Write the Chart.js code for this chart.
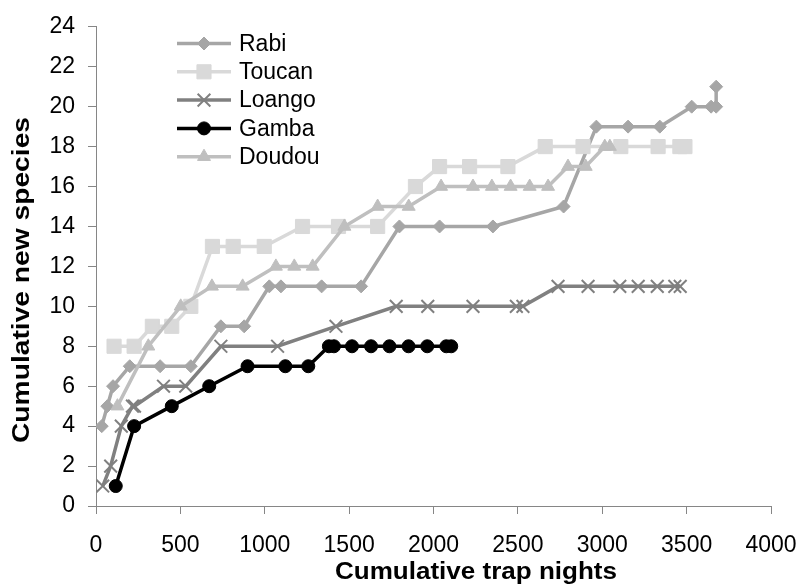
<!DOCTYPE html>
<html>
<head>
<meta charset="utf-8">
<title>Cumulative new species</title>
<script src="https://cdn.jsdelivr.net/npm/chart.js@4.4.1/dist/chart.umd.min.js"></script>
<style>
  html, body { margin: 0; padding: 0; background: #fff; }
  canvas { display: block; }
</style>
</head>
<body>
<canvas id="curves" width="804" height="588"></canvas>
<script>
// cumulative trap nights (x) and cumulative new species (y) per site
const rabiNights   = [34, 67, 101, 200, 380, 562, 740, 878, 1027, 1096, 1337, 1571, 1798, 2036, 2352, 2771, 2965, 3153, 3341, 3530, 3645, 3675, 3675];
const rabiSpecies  = [4, 5, 6, 7, 7, 7, 9, 9, 11, 11, 11, 11, 14, 14, 14, 15, 19, 19, 19, 20, 20, 20, 21];

const toucanNights  = [107, 226, 334, 449, 562, 690, 813, 997, 1224, 1437, 1669, 1893, 2036, 2214, 2441, 2662, 2886, 3110, 3331, 3460, 3490];
const toucanSpecies = [8, 8, 9, 9, 10, 13, 13, 13, 14, 14, 14, 16, 17, 17, 17, 18, 18, 18, 18, 18, 18];

const loangoNights  = [40, 87, 150, 216, 228, 400, 532, 740, 1076, 1422, 1779, 1966, 2234, 2491, 2530, 2738, 2916, 3104, 3213, 3326, 3430, 3462];
const loangoSpecies = [1, 2, 4, 5, 5, 6, 6, 8, 8, 9, 10, 10, 10, 10, 10, 11, 11, 11, 11, 11, 11, 11];

const gambaNights  = [117, 226, 449, 671, 898, 1122, 1258, 1380, 1410, 1517, 1630, 1739, 1852, 1963, 2076, 2105];
const gambaSpecies = [1, 4, 5, 6, 7, 7, 7, 8, 8, 8, 8, 8, 8, 8, 8, 8];

const doudouNights  = [127, 310, 502, 687, 869, 1066, 1175, 1284, 1472, 1669, 1853, 2045, 2234, 2346, 2457, 2570, 2679, 2797, 2902, 3015, 3045];
const doudouSpecies = [5, 8, 10, 11, 11, 12, 12, 12, 14, 15, 15, 16, 16, 16, 16, 16, 16, 17, 17, 18, 18];

const siteNames = ['Rabi', 'Toucan', 'Loango', 'Gamba', 'Doudou'];
const xTicks = [0, 500, 1000, 1500, 2000, 2500, 3000, 3500, 4000];
const yTicks = [0, 2, 4, 6, 8, 10, 12, 14, 16, 18, 20, 22, 24];
const xTitle = 'Cumulative trap nights';
const yTitle = 'Cumulative new species';

const fontFamily = '"Liberation Sans", Arial, sans-serif';
const axisGray = '#868686';

function toPoints(xs, ys) {
    return xs.map((x, i) => ({ x: x, y: ys[i] }));
}

// marker and line style for each site, same order as siteNames
const siteStyles = [
    { color: '#A6A6A6', pointStyle: 'rectRot',  radius: 6.5, pointBorder: 1 },
    { color: '#D9D9D9', pointStyle: 'rect',     radius: 10,  pointBorder: 1 },
    { color: '#808080', pointStyle: 'crossRot', radius: 9,   pointBorder: 2 },
    { color: '#000000', pointStyle: 'circle',   radius: 6.5, pointBorder: 1 },
    { color: '#BFBFBF', pointStyle: 'triangle', radius: 7.5, pointBorder: 1 }
];

const siteData = [
    toPoints(rabiNights, rabiSpecies),
    toPoints(toucanNights, toucanSpecies),
    toPoints(loangoNights, loangoSpecies),
    toPoints(gambaNights, gambaSpecies),
    toPoints(doudouNights, doudouSpecies)
];

const datasets = siteNames.map((name, i) => {
    const st = siteStyles[i];
    return {
        label: name,
        data: siteData[i],
        borderColor: st.color,
        backgroundColor: st.color,
        borderWidth: 3.5,
        tension: 0,
        pointStyle: st.pointStyle,
        pointRadius: st.radius,
        pointHoverRadius: st.radius,
        pointBackgroundColor: st.color,
        pointBorderColor: st.color,
        pointBorderWidth: st.pointBorder,
        // later series sit on top
        order: siteNames.length - i
    };
});

// legend with a short line through each marker
const lineLegend = {
    id: 'lineLegend',
    afterDraw(chart) {
        const ctx = chart.ctx;
        chart.data.datasets.forEach((ds, i) => {
            const y = 43.5 + i * 28.3;
            ctx.save();
            ctx.strokeStyle = ds.borderColor;
            ctx.lineWidth = ds.borderWidth;
            ctx.beginPath();
            ctx.moveTo(177, y);
            ctx.lineTo(231, y);
            ctx.stroke();
            ctx.fillStyle = ds.pointBackgroundColor;
            ctx.strokeStyle = ds.pointBorderColor;
            ctx.lineWidth = ds.pointBorderWidth;
            Chart.helpers.drawPoint(ctx, {
                pointStyle: ds.pointStyle,
                radius: ds.pointRadius,
                rotation: 0,
                borderWidth: ds.pointBorderWidth
            }, 204, y);
            ctx.fillStyle = '#000';
            ctx.font = '23px ' + fontFamily;
            ctx.textBaseline = 'middle';
            ctx.textAlign = 'left';
            ctx.fillText(ds.label, 239, y + 1);
            ctx.restore();
        });
    }
};

// bold axis titles, stretched a little to the wide lettering
function drawTitle(ctx, text, cx, cy, length, angle) {
    ctx.save();
    ctx.font = 'bold 23px ' + fontFamily;
    ctx.fillStyle = '#000';
    ctx.textAlign = 'center';
    ctx.textBaseline = 'middle';
    ctx.translate(cx, cy);
    ctx.rotate(angle);
    const w = ctx.measureText(text).width;
    ctx.scale(length / w, 1);
    ctx.fillText(text, 0, 0);
    ctx.restore();
}

const axisTitles = {
    id: 'axisTitles',
    afterDraw(chart) {
        drawTitle(chart.ctx, xTitle, 476, 573, 282, 0);
        drawTitle(chart.ctx, yTitle, 23, 280, 326, -Math.PI / 2);
    }
};

const tickFont = { family: fontFamily, size: 23 };
const plainNumber = v => String(v);

new Chart(document.getElementById('curves'), {
    type: 'line',
    data: { datasets: datasets },
    options: {
        responsive: false,
        animation: false,
        layout: { padding: { top: 24, right: 33, left: 0, bottom: 0 } },
        plugins: {
            legend: { display: false },
            tooltip: { enabled: false }
        },
        scales: {
            x: {
                type: 'linear',
                min: 0,
                max: 4000,
                afterBuildTicks: s => { s.ticks = xTicks.map(v => ({ value: v })); },
                afterFit: s => {
                    s.height = 82;
                    // the end labels may overhang the plot area
                    s.paddingLeft = 0;
                    s.paddingRight = 0;
                },
                grid: { drawOnChartArea: false, tickLength: 8, color: axisGray },
                border: { color: axisGray, width: 1 },
                ticks: { color: '#000', font: tickFont, padding: 18, maxRotation: 0, autoSkip: false, callback: plainNumber }
            },
            y: {
                min: 0,
                max: 24,
                afterBuildTicks: s => { s.ticks = yTicks.map(v => ({ value: v })); },
                afterFit: s => { s.width = 96; },
                grid: { drawOnChartArea: false, tickLength: 8, color: axisGray },
                border: { color: axisGray, width: 1 },
                ticks: { color: '#000', font: tickFont, padding: 13, autoSkip: false, callback: plainNumber }
            }
        }
    },
    plugins: [axisTitles, lineLegend]
});
</script>
</body>
</html>
